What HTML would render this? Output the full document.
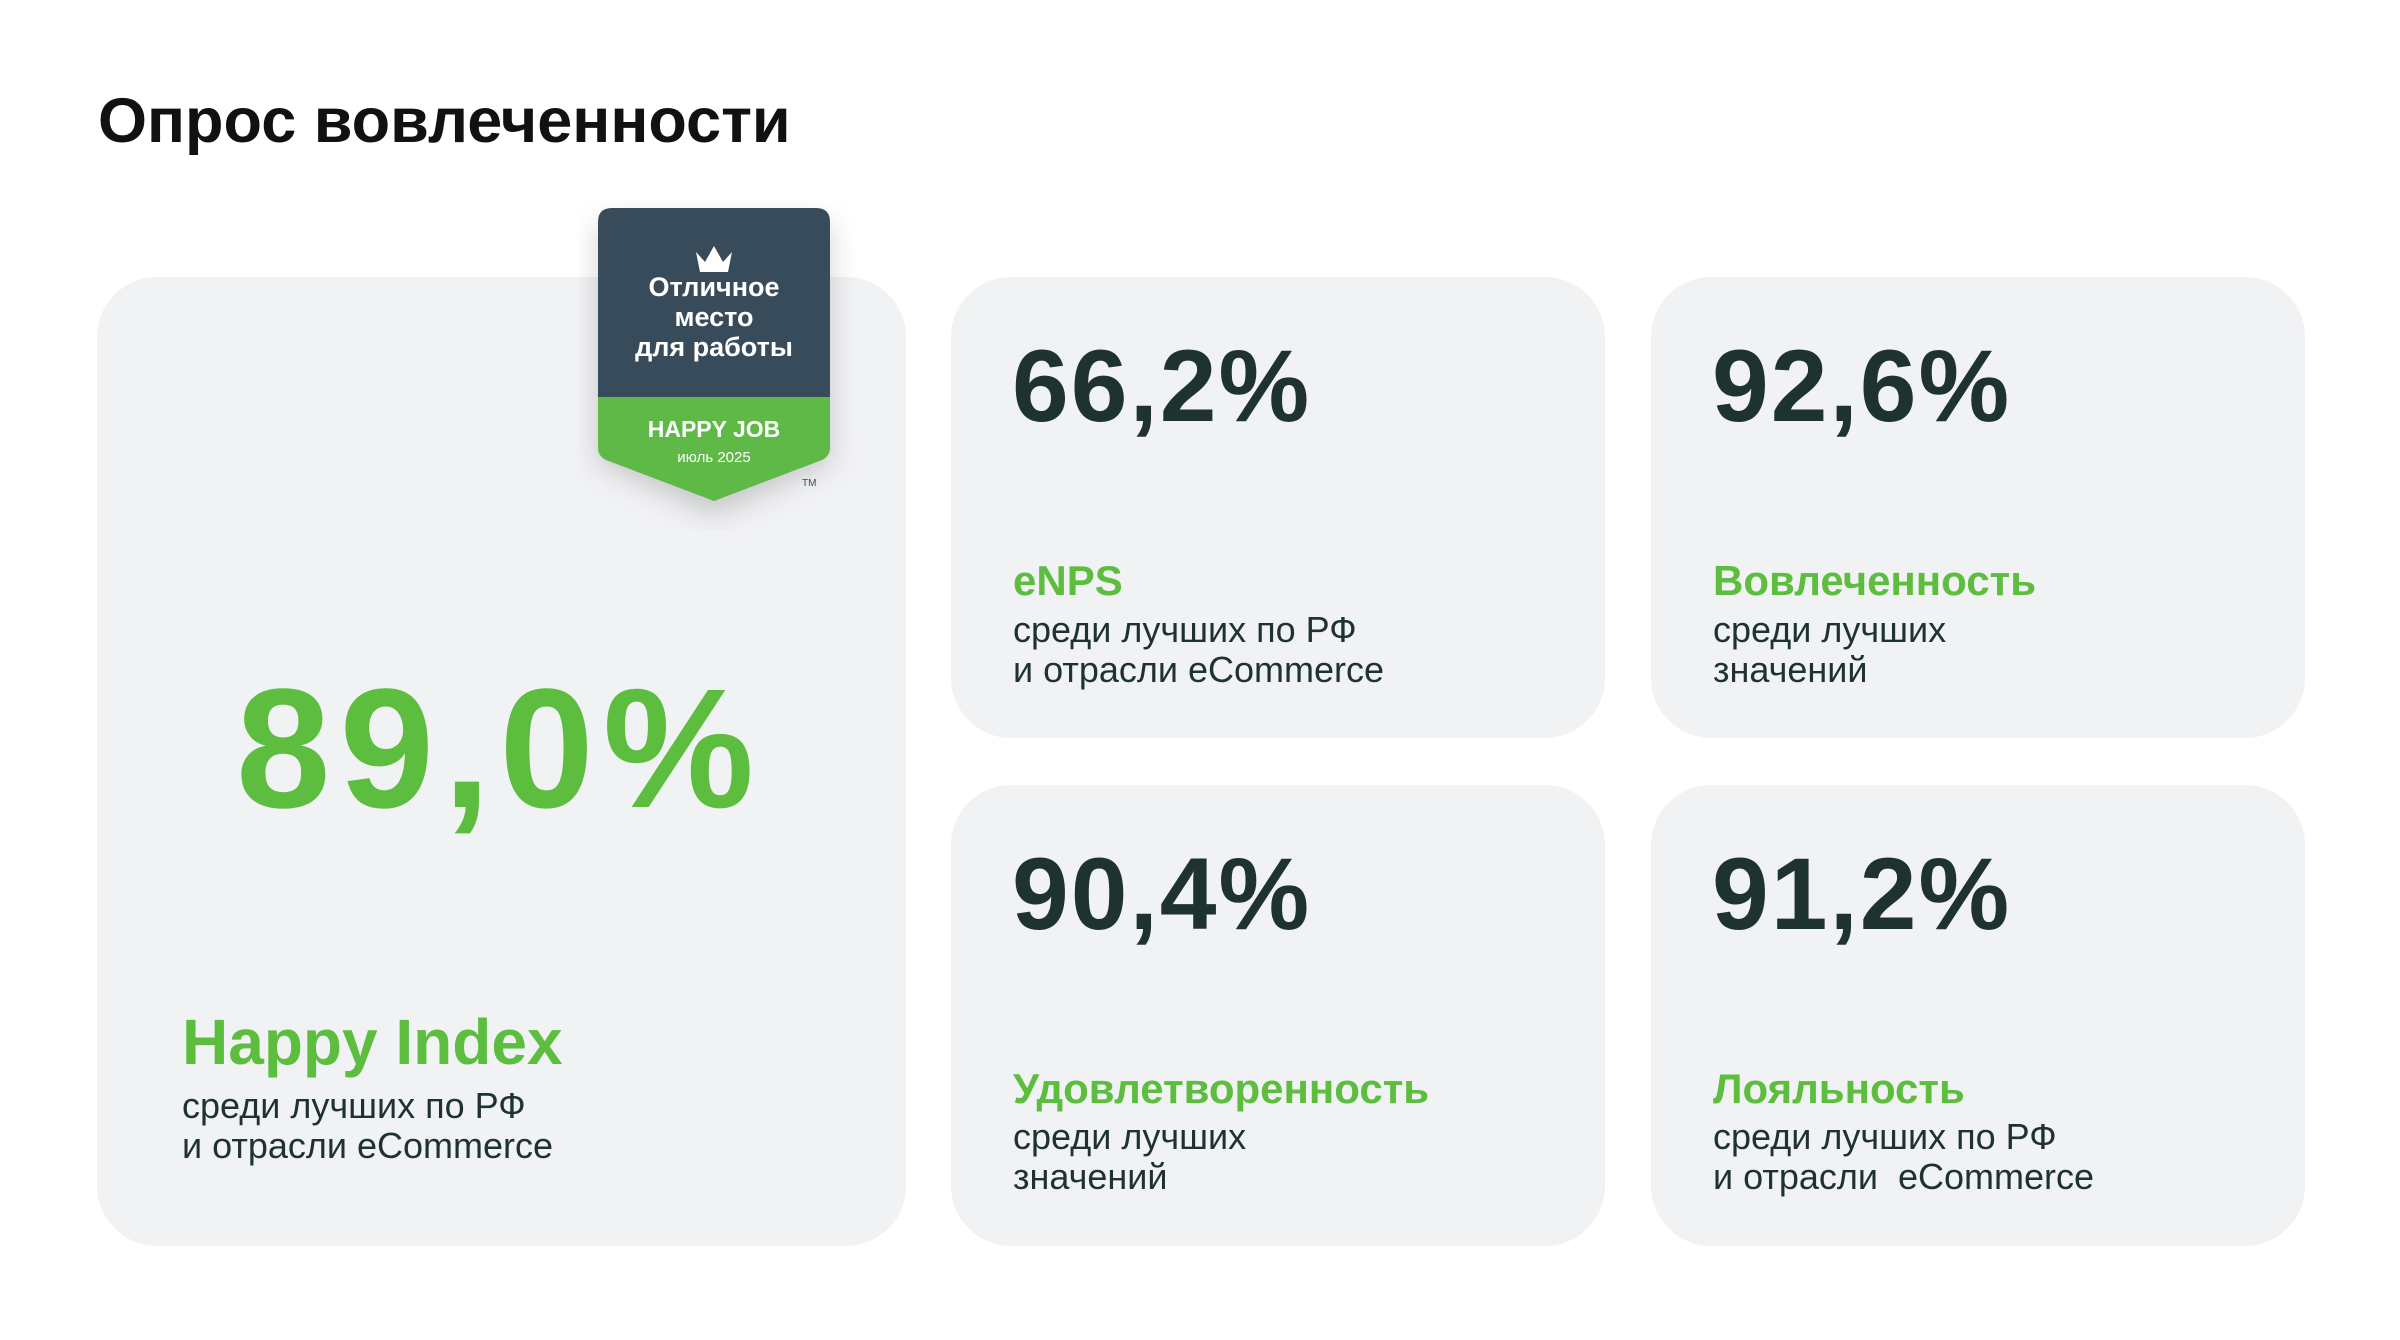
<!DOCTYPE html>
<html><head><meta charset="utf-8"><style>
*{margin:0;padding:0;box-sizing:border-box}
body{width:2400px;height:1340px;background:#fff;position:relative;overflow:hidden;font-family:"Liberation Sans","DejaVu Sans",sans-serif}
.t{position:absolute;white-space:nowrap}
.card{position:absolute;background:#f1f2f4;border-radius:60px}
.num{color:#1e3330;font-weight:bold;font-size:102px;letter-spacing:2px;line-height:1}
.lab{color:#5cbd3e;font-weight:bold;font-size:42px;line-height:1}
.sub{color:#1e3330;font-size:36px;line-height:40px}
</style></head><body>
<div class="t" style="left:98px;top:90px;font-size:63px;font-weight:bold;color:#111;line-height:1">Опрос вовлеченности</div>

<div class="card" style="left:97px;top:277px;width:809px;height:969px"></div>
<div class="card" style="left:951px;top:277px;width:654px;height:461px"></div>
<div class="card" style="left:1651px;top:277px;width:654px;height:461px"></div>
<div class="card" style="left:951px;top:785px;width:654px;height:461px"></div>
<div class="card" style="left:1651px;top:785px;width:654px;height:461px"></div>

<svg style="position:absolute;left:578px;top:200px" width="280" height="330" viewBox="0 0 280 330">
<defs><filter id="sh" x="-30%" y="-30%" width="160%" height="160%"><feDropShadow dx="0" dy="14" stdDeviation="14" flood-color="#000" flood-opacity="0.18"/></filter></defs>
<path d="M34 8 H238 Q252 8 252 22 V248 L136 301 L20 248 V22 Q20 8 34 8 Z" fill="#384c5a" filter="url(#sh)"/>
<path d="M20 197 H252 V248 Q252 256 244 260 L136 301 L28 260 Q20 256 20 248 Z" fill="#5fb946"/>
<path d="M118 52 L127 62 L136 46 L145 62 L154 52 L150 72 H122 Z" fill="#fff"/>
<text x="136" y="96" fill="#fff" font-size="27" font-weight="bold" text-anchor="middle" font-family="Liberation Sans, sans-serif">Отличное</text>
<text x="136" y="126" fill="#fff" font-size="27" font-weight="bold" text-anchor="middle" font-family="Liberation Sans, sans-serif">место</text>
<text x="136" y="156" fill="#fff" font-size="27" font-weight="bold" text-anchor="middle" font-family="Liberation Sans, sans-serif">для работы</text>
<text x="136" y="237" fill="#fff" font-size="23" font-weight="bold" text-anchor="middle" font-family="Liberation Sans, sans-serif">HAPPY JOB</text>
<text x="136" y="262" fill="#fff" font-size="15" text-anchor="middle" font-family="Liberation Sans, sans-serif">июль 2025</text>
<text x="224" y="286" fill="#384c5a" font-size="10" font-family="Liberation Sans, sans-serif">TM</text>
</svg>

<div class="t" style="left:236px;top:664px;font-size:170px;font-weight:bold;color:#5cbd3e;letter-spacing:9px;line-height:1">89,0%</div>
<div class="t lab" style="left:182px;top:1010px;font-size:64px">Happy Index</div>
<div class="t sub" style="left:182px;top:1086px">среди лучших по РФ<br>и отрасли eCommerce</div>

<div class="t num" style="left:1012px;top:335px">66,2%</div>
<div class="t lab" style="left:1013px;top:560px">eNPS</div>
<div class="t sub" style="left:1013px;top:610px">среди лучших по РФ<br>и отрасли eCommerce</div>

<div class="t num" style="left:1712px;top:335px">92,6%</div>
<div class="t lab" style="left:1713px;top:560px">Вовлеченность</div>
<div class="t sub" style="left:1713px;top:610px">среди лучших<br>значений</div>

<div class="t num" style="left:1012px;top:843px">90,4%</div>
<div class="t lab" style="left:1013px;top:1068px">Удовлетворенность</div>
<div class="t sub" style="left:1013px;top:1117px">среди лучших<br>значений</div>

<div class="t num" style="left:1712px;top:843px">91,2%</div>
<div class="t lab" style="left:1713px;top:1068px">Лояльность</div>
<div class="t sub" style="left:1713px;top:1117px">среди лучших по РФ<br>и отрасли&nbsp; eCommerce</div>
</body></html>
